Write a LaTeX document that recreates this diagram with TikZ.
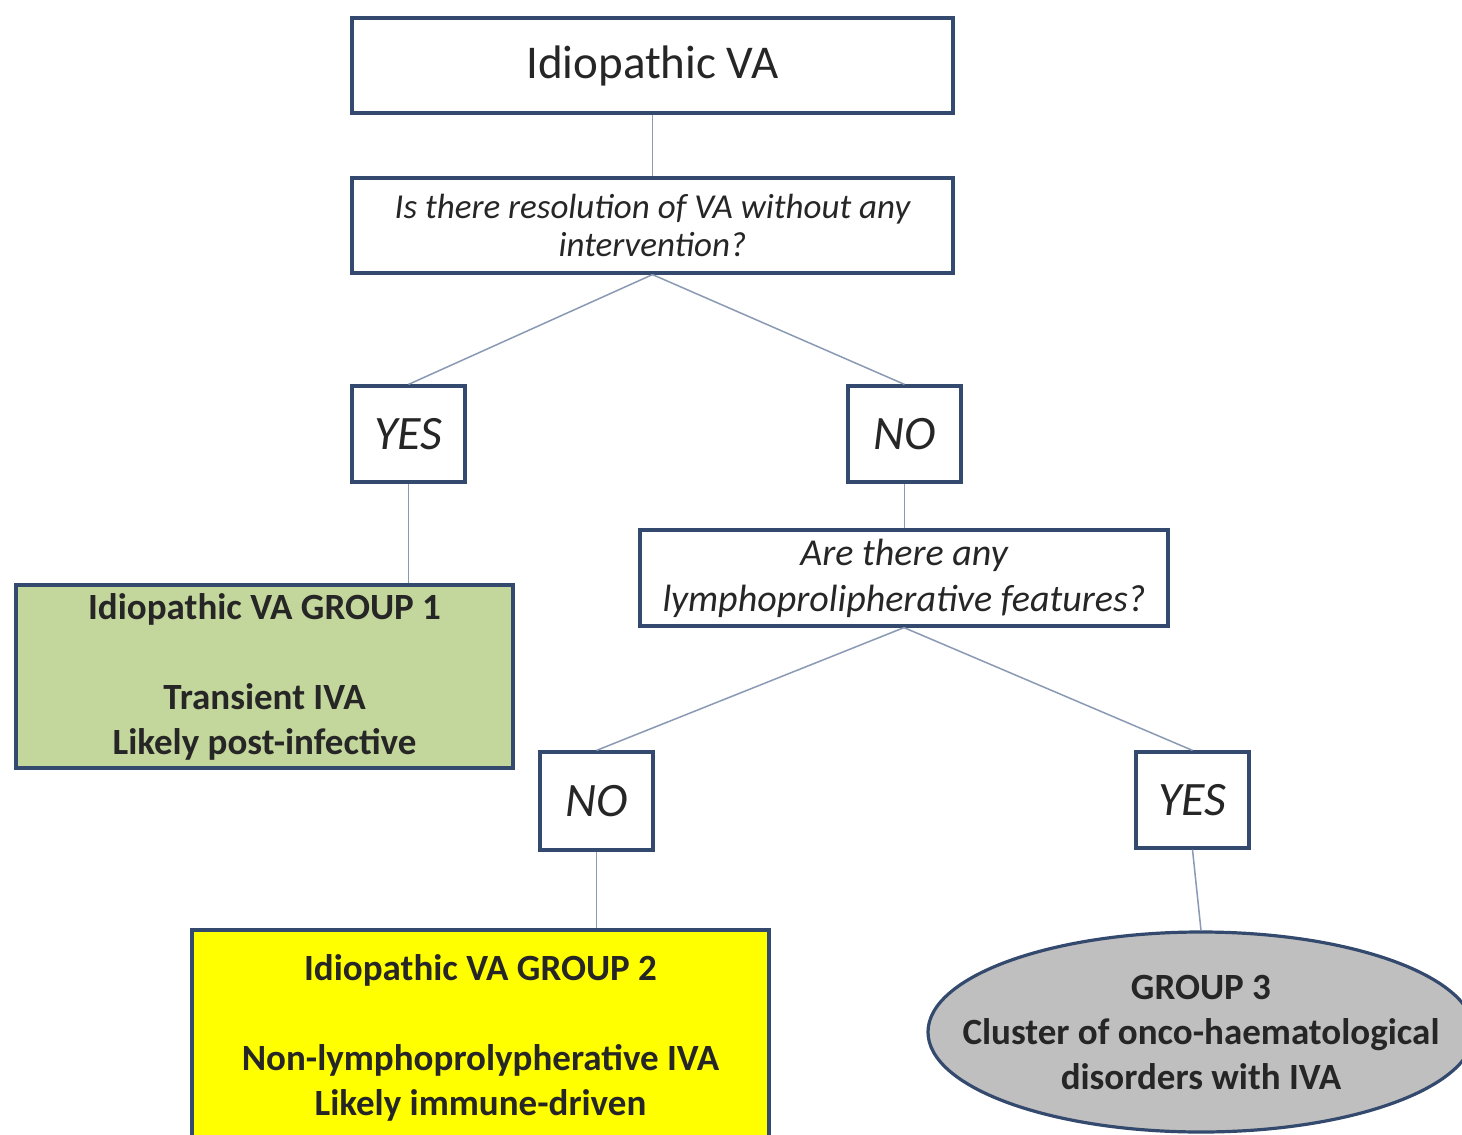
\documentclass[tikz,border=0pt]{standalone}
\usepackage{fontspec}
\setmainfont{Carlito}
\usetikzlibrary{shapes.geometric}
\definecolor{bordc}{HTML}{34496E}
\definecolor{linec}{HTML}{8A9AB4}
\definecolor{greenf}{HTML}{C3D69B}
\definecolor{yellowf}{HTML}{FFFF00}
\definecolor{grayf}{HTML}{BFBFBF}
\tikzset{
  box/.style={draw=bordc, line width=3.2pt, fill=white, inner sep=0pt, align=center, text=black!85},
  conn/.style={draw=linec, line width=1.5pt},
  qfont/.style={font=\fontsize{35}{38}\selectfont\itshape},
  ynfont/.style={font=\fontsize{48}{52}\selectfont\itshape},
  gfont/.style={font=\fontsize{37}{45}\selectfont\bfseries},
}
\begin{document}
\begin{tikzpicture}[x=1pt,y=-1pt]
\useasboundingbox (0,0) rectangle (1462,1135);
\clip (0,0) rectangle (1462,1135);
\fill[white] (0,0) rectangle (1462,1135);

\node[box, minimum width=601pt, minimum height=95pt, font=\fontsize{47}{52}\selectfont] (top) at (652.5,65.5) {\raisebox{-3pt}{Idiopathic VA}};
\node[box, qfont, minimum width=601pt, minimum height=95pt] (q1) at (652.5,225.5) {Is there resolution of VA without any\\intervention?};
\node[box, ynfont, minimum width=113pt, minimum height=96pt] (yes1) at (408.5,434) {YES};
\node[box, ynfont, minimum width=113pt, minimum height=96pt] (no1) at (904.5,434) {NO};
\node[box, gfont, fill=greenf, minimum width=497pt, minimum height=183pt] (g1) at (264.5,676.5) {Idiopathic VA GROUP 1\\[45pt]Transient IVA\\Likely post-infective};
\node[box, font=\fontsize{38}{46}\selectfont\itshape, minimum width=528pt, minimum height=96pt] (q2) at (904,578) {Are there any\\lymphoprolipherative features?};
\node[box, ynfont, minimum width=113pt, minimum height=98pt] (no2) at (596.5,801) {NO};
\node[box, ynfont, minimum width=113pt, minimum height=96pt] (yes2) at (1192.5,800) {YES};
\node[box, gfont, fill=yellowf, minimum width=577pt, minimum height=215pt] (g2) at (480.5,1037.5) {Idiopathic VA GROUP 2\\[45pt]Non-lymphoprolypherative IVA\\Likely immune-driven};
\node[box, gfont, ellipse, fill=grayf, minimum width=546pt, minimum height=200pt] (g3) at (1201,1032) {};
\node[gfont, align=center, text=black!85] (g3text) at (g3.center) {GROUP 3\\Cluster of onco-haematological\\disorders with IVA};

\draw[conn] (top.south) -- (q1.north);
\draw[conn] (q1.south) -- (yes1.north);
\draw[conn] (q1.south) -- (no1.north);
\draw[conn] (yes1.south) -- (g1.north -| yes1.south);
\draw[conn] (no1.south) -- (q2.north -| no1.south);
\draw[conn] (q2.south) -- (no2.north);
\draw[conn] (q2.south) -- (yes2.north);
\draw[conn] (no2.south) -- (g2.north -| no2.south);
\draw[conn] (yes2.south) -- (g3.north);
\end{tikzpicture}
\end{document}
